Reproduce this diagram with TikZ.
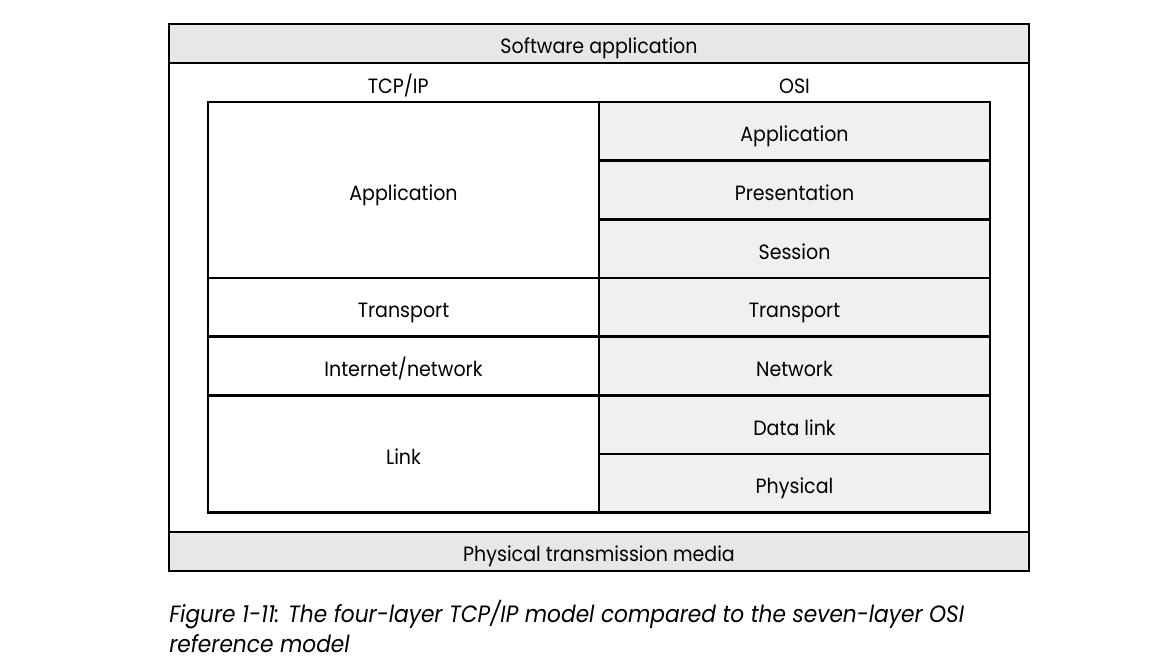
\documentclass[tikz,border=0pt]{standalone}
\usepackage{fontspec}
\setmainfont{Poppins}[FakeStretch=0.92]
\usepackage{tikz}
\usetikzlibrary{positioning}

\definecolor{barGray}{HTML}{E6E7E8}
\definecolor{osiGray}{HTML}{F0F0F1}

\begin{document}
\begin{tikzpicture}[
    x=0.75pt, y=-0.75pt,
    lbl/.style={font=\fontsize{15.5}{18}\selectfont},
    boxlbl/.style={lbl, text height=15.5pt, text depth=0pt},
    layer/.style={draw, line width=1.9pt, outer sep=0pt, inner sep=0pt, minimum width=293.25pt, boxlbl},
    osi/.style={layer, fill=osiGray, minimum height=44pt},
    bar/.style={draw, line width=2.2pt, outer sep=0pt, inner sep=0pt, fill=barGray, minimum width=645pt, minimum height=29.25pt, boxlbl},
    frame/.style={draw, line width=2.2pt, outer sep=0pt, inner sep=0pt, minimum width=645pt, minimum height=410.25pt}
]
    \useasboundingbox (0,0) rectangle (1176,670);

    \node[frame, anchor=north west] (stack) at (169,24) {};
    \node[bar, anchor=north west] (software) at (169,24) {Software application};
    \node[bar, anchor=south west] (media) at (169,571) {Physical transmission media};

    \node[layer, minimum height=132pt, anchor=north east] (tcpApp) at (599,102) {Application};
    \node[layer, minimum height=44pt, below=0pt of tcpApp] (tcpTrans) {Transport};
    \node[layer, minimum height=44pt, below=0pt of tcpTrans] (tcpNet) {Internet/network};
    \node[layer, minimum height=88pt, below=0pt of tcpNet] (tcpLink) {Link};

    \node[osi, anchor=north west] (osiApp) at (599,102) {Application};
    \node[osi, below=0pt of osiApp] (osiPres) {Presentation};
    \node[osi, below=0pt of osiPres] (osiSess) {Session};
    \node[osi, below=0pt of osiSess] (osiTrans) {Transport};
    \node[osi, below=0pt of osiTrans] (osiNet) {Network};
    \node[osi, below=0pt of osiNet] (osiLink) {Data link};
    \node[osi, below=0pt of osiLink] (osiPhys) {Physical};

    \node[lbl, anchor=base] (tcpHead) at ([xshift=-4pt, yshift=6pt]tcpApp.north) {TCP/IP};
    \node[lbl, anchor=base] (osiHead) at ([yshift=6pt]osiApp.north) {OSI};

    \node[anchor=north west, align=left, inner sep=0pt, font=\itshape\fontsize{17.7}{22.5}\selectfont] (caption) at (169,600)
        {Figure 1-11: The four-layer TCP/IP model compared to the seven-layer OSI\\reference model};
\end{tikzpicture}
\end{document}
